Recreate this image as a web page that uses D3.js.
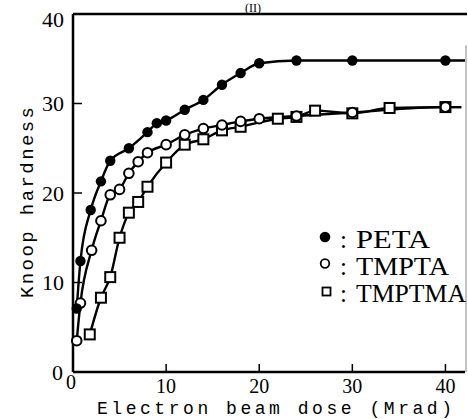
<!DOCTYPE html>
<html>
<head>
<meta charset="utf-8">
<script src="https://cdn.jsdelivr.net/npm/d3@7"></script>
<style>
  body { margin: 0; background: #fff; }
  svg { display: block; }
</style>
</head>
<body>
<div id="plot"></div>
<script>
// values (dose in Mrad, Knoop hardness)
var petaDose = [0.4, 0.8, 1.9, 3, 4, 6, 8, 9, 10, 12, 14, 16, 18, 20, 24, 30, 40];
var petaHard = [7.1, 12.4, 18.1, 21.3, 23.6, 25.0, 26.8, 27.8, 28.1, 29.3, 30.4, 32.1, 33.4, 34.5, 34.8, 34.8, 34.8];

var tmptaDose = [0.4, 0.8, 2, 3, 4, 5, 6, 7, 8, 10, 12, 14, 16, 18, 20, 24, 30, 40];
var tmptaHard = [3.5, 7.7, 13.6, 16.9, 19.8, 20.4, 22.2, 23.5, 24.5, 25.4, 26.5, 27.2, 27.6, 28.0, 28.3, 28.6, 29.0, 29.6];

var tmptmaDose = [1.8, 3, 4, 5, 6, 7, 8, 10, 12, 14, 16, 18, 22, 24, 26, 30, 34, 40];
var tmptmaHard = [4.2, 8.3, 10.6, 15.0, 17.8, 19.0, 20.7, 23.4, 25.4, 26.0, 27.0, 27.4, 28.3, 28.5, 29.2, 28.9, 29.5, 29.6];

var xTicks = [0, 10, 20, 30, 40];
var yTicks = [0, 10, 20, 30, 40];
var legendNames = ["PETA", "TMPTA", "TMPTMA"];

var W = 468, H = 419;
var serif = "'Liberation Serif', 'Times New Roman', serif";
var mono = "'Courier New', 'Liberation Mono', monospace";

var svg = d3.select("#plot").append("svg")
    .attr("width", W)
    .attr("height", H);

var x = d3.scaleLinear().domain([0, 42.1]).range([73, 465]);
var y = d3.scaleLinear().domain([0, 40]).range([372, 14]);

// frame
svg.append("line").attr("x1", x(0)).attr("x2", x(0)).attr("y1", y(40)).attr("y2", y(0))
    .attr("stroke", "#000").attr("stroke-width", 2.5);
svg.append("line").attr("x1", x(0)).attr("x2", x(42.1)).attr("y1", y(0)).attr("y2", y(0))
    .attr("stroke", "#000").attr("stroke-width", 2.5);
svg.append("line").attr("x1", x(0)).attr("x2", x(42.1) + 2).attr("y1", y(40)).attr("y2", y(40))
    .attr("stroke", "#000").attr("stroke-width", 2.5);
svg.append("line").attr("x1", x(42.1) + 1).attr("x2", x(42.1) + 1).attr("y1", y(36.5)).attr("y2", y(0))
    .attr("stroke", "#999").attr("stroke-width", 1.2);

// ticks (inward)
svg.selectAll(".xt").data(xTicks.slice(1)).enter().append("line")
    .attr("x1", function(d) { return x(d); }).attr("x2", function(d) { return x(d); })
    .attr("y1", y(0)).attr("y2", y(0) - 8)
    .attr("stroke", "#000").attr("stroke-width", 1.5);
svg.selectAll(".yt").data(yTicks.slice(1, 4)).enter().append("line")
    .attr("x1", x(0)).attr("x2", x(0) + 9)
    .attr("y1", function(d) { return y(d); }).attr("y2", function(d) { return y(d); })
    .attr("stroke", "#000").attr("stroke-width", 1.5);

// tick labels
svg.selectAll(".xl").data(xTicks).enter().append("text")
    .attr("x", function(d) { return d === 0 ? x(d) - 2 : x(d); })
    .attr("y", function(d) { return d === 0 ? 389 : 393; })
    .attr("text-anchor", "middle")
    .style("font-family", serif).style("font-size", "20px")
    .text(function(d) { return d; });
svg.selectAll(".yl").data(yTicks).enter().append("text")
    .attr("x", function(d) { return d === 0 ? 63 : 64; })
    .attr("y", function(d) { return Math.max(y(d), 19) + 7.5; })
    .attr("text-anchor", "end")
    .style("font-family", serif).style("font-size", "22px")
    .text(function(d) { return d; });

// axis titles
svg.append("text")
    .attr("x", 97).attr("y", 414)
    .attr("textLength", 355).attr("lengthAdjust", "spacing")
    .style("font-family", mono).style("font-size", "18px")
    .text("Electron beam dose (Mrad)");
svg.append("text")
    .attr("transform", "translate(33,298) rotate(-90)")
    .attr("textLength", 191).attr("lengthAdjust", "spacing")
    .style("font-family", mono).style("font-size", "19px")
    .text("Knoop hardness");

// panel label at the top edge
svg.append("text")
    .attr("x", 253).attr("y", 1)
    .attr("dominant-baseline", "text-before-edge")
    .attr("text-anchor", "middle")
    .style("font-family", serif).style("font-size", "12px")
    .text("(II)");

function pts(dose, hard) {
  return dose.map(function(d, i) { return {x: d, y: hard[i]}; });
}
var peta = pts(petaDose, petaHard);
var tmpta = pts(tmptaDose, tmptaHard);
var tmptma = pts(tmptmaDose, tmptmaHard);

var line = d3.line()
    .x(function(d) { return x(d.x); })
    .y(function(d) { return y(d.y); })
    .curve(d3.curveMonotoneX);

function drawLine(data, endDose) {
  var last = data[data.length - 1];
  svg.append("path")
      .datum(data.concat([{x: endDose, y: last.y}]))
      .attr("d", line)
      .attr("fill", "none")
      .attr("stroke", "#000")
      .attr("stroke-width", 2.4);
}
drawLine(peta, 42.1);
drawLine(tmpta, 41.7);
drawLine(tmptma, 41.7);

// markers
svg.selectAll(".sq").data(tmptma).enter().append("rect")
    .attr("x", function(d) { return x(d.x) - 5; })
    .attr("y", function(d) { return y(d.y) - 5; })
    .attr("width", 10).attr("height", 10)
    .attr("fill", "#fff").attr("stroke", "#000").attr("stroke-width", 2);
svg.selectAll(".oc").data(tmpta).enter().append("circle")
    .attr("cx", function(d) { return x(d.x); })
    .attr("cy", function(d) { return y(d.y); })
    .attr("r", 4.8)
    .attr("fill", "#fff").attr("stroke", "#000").attr("stroke-width", 2);
svg.selectAll(".fc").data(peta).enter().append("circle")
    .attr("cx", function(d) { return x(d.x); })
    .attr("cy", function(d) { return y(d.y); })
    .attr("r", 5.2)
    .attr("fill", "#000");

// legend
var legY = [248, 275, 302];
var leg = svg.selectAll(".leg").data(legendNames).enter().append("g")
    .attr("transform", function(d, i) { return "translate(0," + legY[i] + ")"; });
leg.each(function(d, i) {
  var g = d3.select(this);
  if (i === 0) {
    g.append("circle").attr("cx", 325).attr("cy", -11).attr("r", 5.3).attr("fill", "#000");
  } else if (i === 1) {
    g.append("circle").attr("cx", 325).attr("cy", -11.5).attr("r", 4.3)
        .attr("fill", "#fff").attr("stroke", "#000").attr("stroke-width", 1.8);
  } else {
    g.append("rect").attr("x", 322.5).attr("y", -14.5).attr("width", 8).attr("height", 8)
        .attr("fill", "#fff").attr("stroke", "#000").attr("stroke-width", 1.8);
  }
  g.append("text").attr("x", 340).attr("y", 0)
      .style("font-family", serif).style("font-size", "25px")
      .text(":");
  g.append("text").attr("x", 356).attr("y", 0)
      .style("font-family", serif).style("font-size", "25px")
      .attr("textLength", [74, 93, 110][i]).attr("lengthAdjust", "spacingAndGlyphs")
      .text(d);
});
</script>
</body>
</html>
